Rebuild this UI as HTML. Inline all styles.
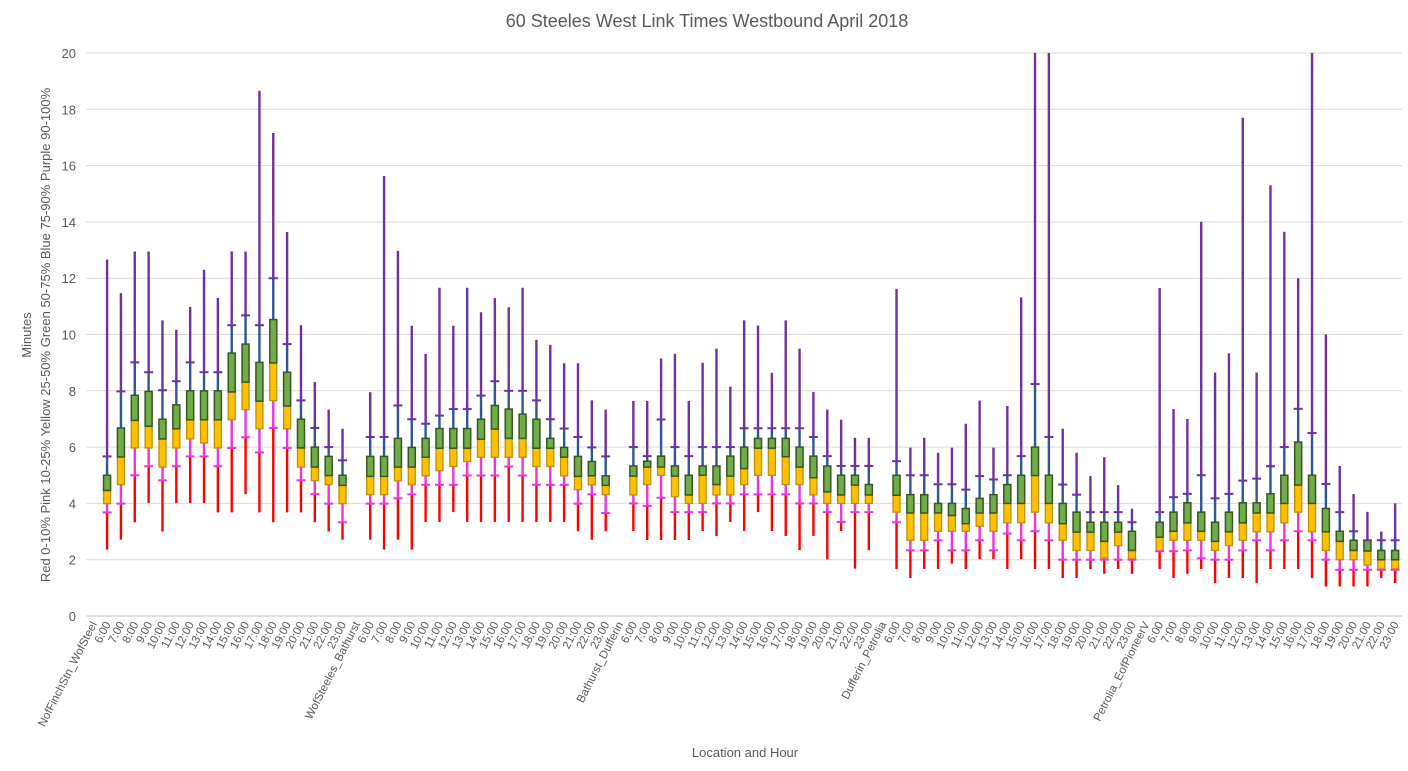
<!DOCTYPE html>
<html><head><meta charset="utf-8"><style>
body{margin:0;background:#fff;}
svg{display:block;font-family:"Liberation Sans",sans-serif;}
</style></head><body>
<svg id="chart" width="1408" height="771" xmlns="http://www.w3.org/2000/svg">
<text x="707" y="27" text-anchor="middle" font-size="18" fill="#595959">60 Steeles West Link Times Westbound April 2018</text>
<text x="745" y="757" text-anchor="middle" font-size="13" fill="#595959">Location and Hour</text>
<text transform="translate(31,335) rotate(-90)" text-anchor="middle" font-size="13" fill="#595959">Minutes</text>
<text transform="translate(50,335) rotate(-90)" text-anchor="middle" font-size="13" fill="#595959">Red 0-10%  Pink 10-25%  Yellow 25-50%  Green 50-75%  Blue 75-90%  Purple 90-100%</text>
<g id="grid"></g><g id="marks"></g><g id="xl"></g>
</svg>
<script>
const groups=["NofFinchStn_WofSteel","WofSteeles_Bathurst","Bathurst_Dufferin","Dufferin_Petrolia","Petrolia_EofPioneerV"];
const hours=["6:00","7:00","8:00","9:00","10:00","11:00","12:00","13:00","14:00","15:00","16:00","17:00","18:00","19:00","20:00","21:00","22:00","23:00"];
const yTicks=[0,2,4,6,8,10,12,14,16,18,20];
// per group: arrays of [max,p90,p75,p50,p25,p10,min]
const g1=[[12.66,5.67,5.0,4.46,3.99,3.68,2.36],[11.47,7.98,6.68,5.65,4.67,3.99,2.71],[12.95,9.01,7.84,6.95,5.97,5.0,3.33],[12.95,8.66,7.98,6.74,5.97,5.32,4.01],[10.5,8.02,6.99,6.29,5.29,4.82,3.0],[10.17,8.34,7.5,6.65,5.97,5.32,4.01],[10.98,9.01,8.0,6.97,6.29,5.67,4.01],[12.3,8.66,8.0,6.97,6.15,5.67,4.01],[11.3,8.66,8.0,6.97,5.97,5.32,3.68],[12.95,10.33,9.34,7.96,6.97,5.97,3.68],[12.95,10.68,9.66,8.31,7.33,6.35,4.33],[18.66,10.33,9.01,7.63,6.65,5.81,3.68],[17.16,12.0,10.53,8.99,7.65,6.68,3.33],[13.64,9.66,8.66,7.46,6.65,5.97,3.68],[10.33,7.66,6.99,5.97,5.29,4.82,3.68],[8.31,6.68,6.0,5.29,4.81,4.33,3.33],[7.33,6.0,5.67,4.99,4.67,3.99,3.0],[6.65,5.53,5.0,4.64,3.99,3.33,2.71]];
const g2=[[7.95,6.36,5.67,4.96,4.31,3.99,2.71],[15.63,6.36,5.67,4.96,4.31,3.99,2.36],[12.97,7.48,6.31,5.29,4.8,4.18,2.71],[10.31,6.99,5.99,5.29,4.66,4.32,2.36],[9.31,6.83,6.31,5.64,4.98,4.66,3.34],[11.66,7.12,6.66,5.96,5.16,4.66,3.34],[10.31,7.35,6.66,5.96,5.31,4.66,3.69],[11.66,7.35,6.66,5.96,5.49,4.99,3.34],[10.79,7.83,6.99,6.28,5.64,4.99,3.34],[11.29,8.34,7.48,6.64,5.64,4.99,3.34],[10.97,8.0,7.35,6.31,5.64,5.31,3.34],[11.66,8.0,7.17,6.31,5.64,4.99,3.34],[9.81,7.66,6.99,5.96,5.31,4.66,3.34],[9.63,6.99,6.31,5.96,5.31,4.66,3.34],[8.98,6.66,5.99,5.64,4.98,4.66,3.34],[8.98,6.36,5.67,4.96,4.49,3.99,3.01],[7.66,5.99,5.49,4.98,4.66,4.32,2.71],[7.33,5.67,4.98,4.64,4.31,3.66,3.01]];
const g3=[[7.64,6.0,5.33,4.97,4.3,4.0,3.02],[7.64,5.68,5.5,5.29,4.67,3.91,2.7],[9.15,6.98,5.68,5.29,5.0,4.2,2.7],[9.31,6.0,5.33,4.97,4.24,3.69,2.7],[7.64,5.68,5.0,4.3,4.0,3.69,2.7],[8.99,6.0,5.33,5.0,4.0,3.69,3.02],[9.5,6.0,5.33,4.67,4.3,4.0,2.84],[8.15,6.0,5.68,4.97,4.3,4.0,3.34],[10.5,6.67,6.0,5.24,4.67,4.32,3.02],[10.32,6.67,6.31,5.96,5.0,4.32,3.69],[8.64,6.67,6.31,5.96,5.0,4.32,3.02],[10.5,6.67,6.31,5.66,4.67,4.32,2.84],[9.5,6.67,6.0,5.29,4.67,4.0,2.34],[7.96,6.36,5.68,4.91,4.3,4.0,2.84],[7.33,5.68,5.33,4.41,4.0,3.69,2.01],[6.97,5.33,5.0,4.3,4.0,3.34,3.02],[6.33,5.33,5.0,4.65,4.0,3.69,1.68],[6.33,5.33,4.67,4.3,4.0,3.69,2.34]];
const g4=[[11.62,5.5,5.0,4.29,3.69,3.33,1.67],[5.98,5.0,4.31,3.66,2.69,2.33,1.35],[6.33,5.0,4.31,3.66,2.69,2.33,1.67],[5.8,4.68,4.0,3.66,3.01,2.69,1.67],[5.98,4.68,4.0,3.57,3.01,2.33,1.86],[6.83,4.49,3.82,3.28,3.01,2.33,1.67],[7.65,4.97,4.18,3.66,3.19,2.69,2.02],[5.98,4.85,4.31,3.66,3.01,2.33,2.02],[7.46,5.0,4.67,4.0,3.31,2.93,1.67],[11.32,5.68,5.0,4.0,3.31,2.69,2.02],[20,8.24,6.0,4.99,3.69,3.01,1.67],[20,6.36,5.0,4.0,3.31,2.69,1.67],[6.65,4.67,4.0,3.28,2.69,2.0,1.35],[5.8,4.31,3.69,2.98,2.33,2.0,1.35],[4.97,3.69,3.33,2.98,2.33,2.0,1.67],[5.64,3.69,3.33,2.65,2.06,2.0,1.5],[4.65,3.69,3.33,2.98,2.5,2.0,1.67],[3.81,3.33,3.01,2.33,2.02,2.0,1.5]];
const g5=[[11.65,3.69,3.33,2.8,2.3,2.3,1.67],[7.35,4.22,3.69,3.01,2.69,2.3,1.35],[7.0,4.34,4.02,3.31,2.69,2.33,1.5],[14.0,5.0,3.69,3.01,2.69,2.05,1.67],[8.65,4.18,3.33,2.65,2.33,2.0,1.17],[9.33,4.34,3.69,2.99,2.5,2.0,1.35],[17.7,4.81,4.02,3.31,2.69,2.33,1.35],[8.65,4.88,4.02,3.66,2.99,2.69,1.17],[15.3,5.32,4.34,3.66,2.99,2.33,1.67],[13.65,6.0,5.0,4.0,3.31,2.69,1.67],[12.0,7.36,6.18,4.65,3.69,3.01,1.67],[20,6.5,5.0,4.0,2.99,2.69,1.35],[10.0,4.69,3.82,2.99,2.33,2.0,1.05],[5.33,3.69,3.01,2.65,2.0,1.64,1.05],[4.33,3.01,2.69,2.33,2.0,1.64,1.05],[3.7,2.69,2.69,2.31,1.81,1.64,1.05],[3.0,2.69,2.33,2.0,1.67,1.64,1.35],[4.0,2.69,2.33,2.0,1.67,1.64,1.17]];
const groupData=[g1,g2,g3,g4,g5];

const NS="http://www.w3.org/2000/svg";
const X0=86.3,SW=13.85,Y0=616,PY=28.15;
const xs=i=>X0+(i+0.5)*SW;
const ys=v=>Y0-v*PY;
function mk(tag,at,parent){const e=document.createElementNS(NS,tag);for(const k in at)e.setAttribute(k,at[k]);parent.appendChild(e);return e;}
const grid=document.getElementById('grid'),marks=document.getElementById('marks'),xl=document.getElementById('xl');
yTicks.forEach(t=>{
  const l=mk('line',{x1:X0,x2:1402,y1:ys(t),y2:ys(t),stroke:t===0?'#bfbfbf':'#d9d9d9','stroke-width':1},grid);
  
  
  const tx=mk('text',{x:76,y:ys(t)+5,'text-anchor':'end','font-size':13,fill:'#595959'},grid);
  tx.textContent=t;
  
  
});
function label(txt,i,name){
  const x=xs(i)+4,y=624;
  const t=mk('text',{transform:`translate(${x},${y}) rotate(-63)`,'text-anchor':'end','font-size':11.5,fill:'#595959'},xl);
  t.textContent=txt;
  
  
}
let idx=0;
groupData.forEach((gd,gi)=>{
  label(groups[gi],idx,'x-group-label');
  idx++;
  gd.forEach((d,hi)=>{
    const [mx,p90,p75,p50,p25,p10,mn]=d;
    const x=xs(idx);
    const g=mk('g',{},marks);
    
    
    mk('line',{x1:x,x2:x,y1:ys(mn),y2:ys(p10),stroke:'#ff0000','stroke-width':2.4},g);
    mk('line',{x1:x,x2:x,y1:ys(p10),y2:ys(p25),stroke:'#ee33dd','stroke-width':2.4},g);
    mk('line',{x1:x,x2:x,y1:ys(p75),y2:ys(p90),stroke:'#2f5597','stroke-width':2.4},g);
    mk('line',{x1:x,x2:x,y1:ys(p90),y2:ys(mx),stroke:'#7030a0','stroke-width':2.4},g);
    mk('rect',{x:x-3.5,y:ys(p50),width:7,height:Math.max(ys(p25)-ys(p50),0.5),fill:'#ffc000',stroke:'#bf9000','stroke-width':1.3},g);
    mk('rect',{x:x-3.5,y:ys(p75),width:7,height:Math.max(ys(p50)-ys(p75),0.5),fill:'#70ad47',stroke:'#375623','stroke-width':1.5},g);
    mk('line',{x1:x-4.5,x2:x+4.5,y1:ys(p10),y2:ys(p10),stroke:'#ee33dd','stroke-width':2},g);
    mk('line',{x1:x-4.5,x2:x+4.5,y1:ys(p90),y2:ys(p90),stroke:'#7030a0','stroke-width':2},g);
    label(hours[hi],idx,'x-hour-label');
    idx++;
  });
});
</script>
</body></html>
